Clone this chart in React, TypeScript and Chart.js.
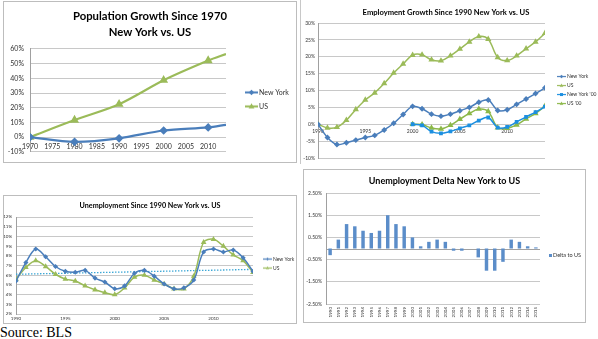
import React, { useEffect, useRef } from 'react';
import { Chart, registerables } from 'chart.js';

Chart.register(...registerables);

const FONT = 'Lato, "Open Sans", Arial, sans-serif';
const BLUE = '#4A7EBB';
const GREEN = '#9BBB59';
const BRIGHT_BLUE = '#1C8FE0';
const GREEN2 = '#8CB849';
const TREND = '#3EA8D6';
const BAR = '#5B8DC9';
const GRID = '#C8C8C8';
const AXIS = '#A0A0A0';
const TICK = '#333333';

// ---- Panel 1: Population growth since 1970 (%)
const popYears = [1970, 1980, 1990, 2000, 2010, 2014];
const popNewYork = [0, -3.2, -0.8, 4.5, 6.6, 8.4];
const popUS = [0, 11.6, 22.4, 38.7, 52.1, 56.5];

// ---- Panel 2: Employment growth since 1990 (%)
const empYears = [1990, 1991, 1992, 1993, 1994, 1995, 1996, 1997, 1998, 1999, 2000, 2001, 2002, 2003, 2004, 2005, 2006, 2007, 2008, 2009, 2010, 2011, 2012, 2013, 2014];
const empNewYork = [0, -3.9, -6.0, -5.5, -4.7, -3.9, -3.3, -1.7, 0.3, 2.9, 5.3, 4.6, 3.0, 2.4, 3.0, 4.0, 5.0, 6.5, 7.2, 4.1, 4.3, 5.9, 7.5, 9.1, 10.8];
const empUS = [0, -1.1, -0.9, 1.2, 4.4, 7.2, 9.3, 12.1, 15.2, 17.9, 20.5, 20.6, 19.1, 18.8, 20.3, 22.3, 24.4, 26.0, 25.2, 19.8, 18.9, 20.3, 22.4, 24.4, 27.0];
const emp00Years = [2000, 2001, 2002, 2003, 2004, 2005, 2006, 2007, 2008, 2009, 2010, 2011, 2012, 2013, 2014];
const empNewYork00 = [0, -0.3, -2.2, -2.7, -2.1, -1.2, -0.3, 1.1, 2.0, -1.0, -0.8, 0.7, 2.2, 3.6, 5.2];
const empUS00 = [0, -0.1, -1.1, -1.4, -0.3, 1.5, 3.2, 4.5, 3.8, -1.0, -1.2, -0.2, 1.6, 3.2, 5.4];

// ---- Panel 3: Unemployment rate (%)
const unYears = [1990, 1991, 1992, 1993, 1994, 1995, 1996, 1997, 1998, 1999, 2000, 2001, 2002, 2003, 2004, 2005, 2006, 2007, 2008, 2009, 2010, 2011, 2012, 2013, 2014];
const unNewYork = [5.4, 7.3, 8.7, 7.9, 6.9, 6.4, 6.3, 6.5, 5.7, 5.3, 4.6, 4.9, 6.2, 6.5, 5.9, 5.1, 4.6, 4.7, 5.5, 8.4, 8.7, 8.4, 8.6, 7.8, 6.4];
const unUS = [5.6, 6.8, 7.5, 6.9, 6.1, 5.6, 5.4, 4.9, 4.5, 4.2, 4.0, 4.7, 5.8, 6.0, 5.5, 5.1, 4.6, 4.6, 5.9, 9.4, 9.7, 9.0, 8.1, 7.5, 6.3];
const trendYears = [1990, 2014];
const trendNewYork = [6.1, 6.6];

// ---- Panel 4: Unemployment delta NY - US (%)
const deltaYears = ['1990', '1991', '1992', '1993', '1994', '1995', '1996', '1997', '1998', '1999', '2000', '2001', '2002', '2003', '2004', '2005', '2006', '2007', '2008', '2009', '2010', '2011', '2012', '2013', '2014', '2015'];
const deltaToUS = [-0.3, 0.4, 1.1, 1.0, 0.8, 0.7, 0.8, 1.5, 1.1, 1.0, 0.5, 0.1, 0.3, 0.4, 0.3, -0.1, -0.1, 0.0, -0.4, -1.0, -1.0, -0.6, 0.4, 0.3, 0.1, 0.05];

const pts = (xs: number[], ys: number[]) => xs.map((x, i) => ({ x, y: ys[i] }));

function drawMarker(ctx: CanvasRenderingContext2D, shape: string, cx: number, cy: number, r: number) {
  ctx.beginPath();
  if (shape === 'rectRot') {
    ctx.moveTo(cx, cy - r); ctx.lineTo(cx + r, cy); ctx.lineTo(cx, cy + r); ctx.lineTo(cx - r, cy);
  } else if (shape === 'triangle') {
    ctx.moveTo(cx, cy - r); ctx.lineTo(cx + r * 0.9, cy + r * 0.6); ctx.lineTo(cx - r * 0.9, cy + r * 0.6);
  } else {
    ctx.rect(cx - r, cy - r, 2 * r, 2 * r);
  }
  ctx.closePath();
  ctx.fill();
}

function legendIcon(color: string, shape: string, w: number, h: number, lw: number, r: number) {
  const c = document.createElement('canvas');
  c.width = w; c.height = h;
  const ctx = c.getContext('2d')!;
  ctx.strokeStyle = color; ctx.fillStyle = color;
  if (lw > 0) {
    ctx.lineWidth = lw;
    ctx.beginPath(); ctx.moveTo(0, h / 2); ctx.lineTo(w, h / 2); ctx.stroke();
  }
  drawMarker(ctx, shape, w / 2, h / 2, r);
  return c;
}

// Side legend (Excel style: line+marker icon, label to its right), drawn next to the plot area.
function sideLegend(icons: (HTMLCanvasElement | null)[], dx: number, dy: number, step: number, fontSize: number, textGap: number) {
  return {
    id: 'sideLegend',
    afterDraw(chart: any) {
      const { right, top, bottom } = chart.chartArea;
      const ctx = chart.ctx as CanvasRenderingContext2D;
      const x = right + dx;
      ctx.save();
      ctx.font = `${fontSize}px ${FONT}`;
      ctx.fillStyle = TICK; ctx.textBaseline = 'middle'; ctx.textAlign = 'left';
      let i = 0;
      chart.data.datasets.forEach((ds: any, di: number) => {
        const icon = icons[di];
        if (!icon) return;
        const y = (top + bottom) / 2 + dy + i * step;
        ctx.drawImage(icon, x, y - icon.height / 2);
        ctx.fillText(ds.label, x + icon.width + textGap, y);
        i++;
      });
      ctx.restore();
    },
  };
}

// invisible spacer axis reserving the legend column on the right
function spacerAxis(width: number) {
  return {
    type: 'linear', position: 'right', display: true,
    ticks: { display: false }, grid: { display: false, drawTicks: false }, border: { display: false },
    afterFit: (s: any) => { s.width = width; },
  };
}

const every5 = (s: any) => { s.ticks = s.ticks.filter((t: any) => t.value % 5 === 0); };
const fixW = (w: number) => (s: any) => { s.width = w; };
const fixH = (h: number) => (s: any) => { s.height = h; };
const tickFont = (size: number) => ({ family: FONT, size });
const titleOpts = (text: any, size: number, lh: number, top: number, bottom: number) => ({
  display: true, text, color: '#000', font: { family: FONT, size, weight: 'bold', lineHeight: lh }, padding: { top, bottom },
});

const zeroLine = {
  id: 'zeroLine',
  beforeDatasetsDraw(chart: any) {
    const y = Math.round(chart.scales.y.getPixelForValue(0)) + 0.5;
    const { left, right } = chart.chartArea;
    const ctx = chart.ctx;
    ctx.save(); ctx.strokeStyle = AXIS; ctx.lineWidth = 1;
    ctx.beginPath(); ctx.moveTo(left, y); ctx.lineTo(right, y); ctx.stroke(); ctx.restore();
  },
};

const base = { responsive: false, animation: false, devicePixelRatio: 1, maintainAspectRatio: false };
const noLegend = { display: false };

function configPopulation() {
  const icons = [legendIcon(BLUE, 'rectRot', 13, 7, 2, 2.8), legendIcon(GREEN, 'triangle', 13, 7, 2, 3.2)];
  const radius = (r: number) => (c: any) => (c.dataIndex === popYears.length - 1 ? 0 : r);
  return {
    type: 'line',
    data: {
      datasets: [
        { label: 'New York', data: pts(popYears, popNewYork), borderColor: BLUE, backgroundColor: BLUE, borderWidth: 2.2, pointStyle: 'rectRot', pointRadius: radius(2.8), tension: 0.3, xAxisID: 'x', yAxisID: 'y' },
        { label: 'US', data: pts(popYears, popUS), borderColor: GREEN, backgroundColor: GREEN, borderWidth: 2.2, pointStyle: 'triangle', pointRadius: radius(3), tension: 0.3, xAxisID: 'x', yAxisID: 'y' },
      ],
    },
    options: {
      ...base,
      layout: { padding: { left: 0, right: 0, top: 0, bottom: 7 } },
      scales: {
        x: { type: 'linear', position: { y: 0 }, min: 1970, max: 2014, afterBuildTicks: every5,
          ticks: { stepSize: 5, includeBounds: false, padding: 5, color: TICK, font: tickFont(7), callback: (v: any) => String(v) },
          grid: { display: false, drawTicks: false }, border: { display: false } },
        y: { type: 'linear', min: -10, max: 60, afterFit: fixW(26),
          ticks: { stepSize: 10, padding: 6, color: TICK, font: tickFont(7), callback: (v: any) => v + '%' },
          grid: { color: GRID, drawTicks: false }, border: { display: true, color: AXIS } },
        side: spacerAxis(70),
      },
      plugins: {
        title: titleOpts(['Population Growth Since 1970', 'New York vs. US'], 11.3, 1.37, 6.75, 9.25),
        legend: noLegend,
        tooltip: { enabled: false },
      },
    },
    plugins: [sideLegend(icons, 19, -8, 14, 7, 1)],
  };
}

function configEmployment() {
  const icons = [
    legendIcon(BLUE, 'rectRot', 9, 5, 1.2, 1.8),
    legendIcon(GREEN, 'triangle', 9, 5, 1.2, 2),
    legendIcon(BRIGHT_BLUE, 'rect', 9, 5, 1.2, 1.5),
    legendIcon(GREEN2, 'triangle', 9, 5, 1.2, 2),
  ];
  const ds = (label: string, xs: number[], ys: number[], color: string, style: string, r: number) => ({
    label, data: pts(xs, ys), borderColor: color, backgroundColor: color, borderWidth: 1.5,
    pointStyle: style, pointRadius: r, tension: 0.35, xAxisID: 'x', yAxisID: 'y',
  });
  return {
    type: 'line',
    data: {
      datasets: [
        ds('New York', empYears, empNewYork, BLUE, 'rectRot', 1.9),
        ds('US', empYears, empUS, GREEN, 'triangle', 2.1),
        ds("New York '00", emp00Years, empNewYork00, BRIGHT_BLUE, 'rect', 1.6),
        ds("US '00", emp00Years, empUS00, GREEN2, 'triangle', 2.1),
      ],
    },
    options: {
      ...base,
      layout: { padding: { left: 0, right: 7, top: 0, bottom: 5 } },
      scales: {
        x: { type: 'linear', position: { y: 0 }, min: 1990, max: 2014, afterBuildTicks: every5,
          ticks: { stepSize: 5, includeBounds: false, padding: 4, color: TICK, font: tickFont(5), callback: (v: any) => String(v) },
          grid: { display: false, drawTicks: false }, border: { display: false } },
        y: { type: 'linear', min: -10, max: 30, afterFit: fixW(17),
          ticks: { stepSize: 5, padding: 3, color: TICK, font: tickFont(5), callback: (v: any) => v + '%' },
          grid: { color: GRID, drawTicks: false }, border: { display: true, color: AXIS } },
        side: spacerAxis(46),
      },
      plugins: {
        title: titleOpts('Employment Growth Since 1990 New York vs. US', 7.6, 1.2, 7.9, 6),
        legend: noLegend,
        tooltip: { enabled: false },
      },
    },
    plugins: [sideLegend(icons, 12, -14, 9, 5, 1)],
  };
}

function configUnemployment() {
  const icons = [legendIcon(BLUE, 'rectRot', 9, 5, 1.2, 1.5), legendIcon(GREEN, 'triangle', 9, 5, 1.2, 1.8), null];
  const ds = (label: string, ys: number[], color: string, style: string, r: number) => ({
    label, data: pts(unYears, ys), borderColor: color, backgroundColor: color, borderWidth: 1.5,
    pointStyle: style, pointRadius: r, tension: 0.35, xAxisID: 'x', yAxisID: 'y',
  });
  return {
    type: 'line',
    data: {
      datasets: [
        ds('New York', unNewYork, BLUE, 'rectRot', 1.5),
        ds('US', unUS, GREEN, 'triangle', 1.8),
        { label: 'Linear (New York)', data: pts(trendYears, trendNewYork), borderColor: TREND, borderWidth: 1.3, borderDash: [1.5, 1.5],
          pointRadius: 0, tension: 0, xAxisID: 'x', yAxisID: 'y' },
      ],
    },
    options: {
      ...base,
      layout: { padding: { left: 0, right: 0, top: 0, bottom: 0 } },
      scales: {
        x: { type: 'linear', position: 'bottom', min: 1990, max: 2014, afterBuildTicks: every5, afterFit: fixH(9),
          ticks: { stepSize: 5, includeBounds: false, padding: 2, color: TICK, font: tickFont(4.5), maxRotation: 0, callback: (v: any) => String(v) },
          grid: { display: false, drawTicks: false }, border: { display: false } },
        y: { type: 'linear', min: 2, max: 12, afterFit: fixW(12),
          ticks: { stepSize: 1, padding: 4, color: TICK, font: tickFont(4.5), callback: (v: any) => v + '%' },
          grid: { color: GRID, drawTicks: false }, border: { display: true, color: AXIS } },
        side: spacerAxis(43),
      },
      plugins: {
        title: titleOpts('Unemployment Since 1990 New York vs. US', 7.2, 1.2, 5.7, 6.7),
        legend: noLegend,
        tooltip: { enabled: false },
      },
    },
    plugins: [sideLegend(icons, 10, -6.5, 9, 5, 1)],
  };
}

function configDelta() {
  const icons = [legendIcon(BAR, 'rect', 3, 3, 0, 1.5)];
  return {
    type: 'bar',
    data: {
      labels: deltaYears,
      datasets: [
        { label: 'Delta to US', data: deltaToUS, backgroundColor: BAR, borderWidth: 0, barPercentage: 0.42, categoryPercentage: 1, xAxisID: 'x', yAxisID: 'y' },
      ],
    },
    options: {
      ...base,
      layout: { padding: { left: 0, right: 0, top: 0, bottom: 0 } },
      scales: {
        x: { type: 'category', position: 'bottom', afterFit: fixH(18),
          ticks: { autoSkip: false, minRotation: 90, maxRotation: 90, padding: 3, color: TICK, font: tickFont(4.5) },
          grid: { display: false, drawTicks: false }, border: { display: false } },
        y: { type: 'linear', min: -2.5, max: 2.5, afterFit: fixW(22),
          ticks: { stepSize: 1, padding: 4, color: TICK, font: tickFont(5), callback: (v: any) => Number(v).toFixed(2) + '%' },
          grid: { color: GRID, drawTicks: false }, border: { display: true, color: AXIS } },
        side: spacerAxis(45),
      },
      plugins: {
        title: titleOpts('Unemployment Delta New York to US', 9, 1.2, 5.6, 6.6),
        legend: noLegend,
        tooltip: { enabled: false },
      },
    },
    plugins: [zeroLine, sideLegend(icons, 8.5, 6.5, 9, 5.5, 1.5)],
  };
}

function ChartCanvas({ w, h, make }: { w: number; h: number; make: () => any }) {
  const ref = useRef<HTMLCanvasElement>(null);
  useEffect(() => {
    const chart = new Chart(ref.current as HTMLCanvasElement, make());
    return () => chart.destroy();
  }, []);
  return <canvas ref={ref} width={w} height={h} style={{ position: 'absolute', left: 0, top: 0, width: w, height: h }} />;
}

const panel = (left: number, top: number, width: number, height: number, border: string): React.CSSProperties => ({
  position: 'absolute', left, top, width, height, boxSizing: 'border-box', border,
});

export default function App() {
  return (
    <div style={{ position: 'fixed', left: 0, top: 0, width: 598, height: 339, background: '#fff', overflow: 'hidden' }}>
      <div style={panel(3, 1, 294, 162, '1px solid #BDBDBD')}>
        <ChartCanvas w={292} h={160} make={configPopulation} />
      </div>
      <div style={{ ...panel(300, 0, 298, 164, 'none'), borderLeft: '1px solid #C8C8C8' }}>
        <ChartCanvas w={297} h={164} make={configEmployment} />
      </div>
      <div style={panel(3, 195, 294, 129, '1px solid #BDBDBD')}>
        <ChartCanvas w={292} h={127} make={configUnemployment} />
      </div>
      <div style={panel(303, 169, 283, 154, '1px solid #BDBDBD')}>
        <ChartCanvas w={281} h={152} make={configDelta} />
      </div>
      <div style={{ position: 'absolute', left: 0, top: 325, fontFamily: '"Liberation Serif", "Times New Roman", serif', fontSize: 14, lineHeight: '16px', color: '#000' }}>
        Source: BLS
      </div>
    </div>
  );
}
